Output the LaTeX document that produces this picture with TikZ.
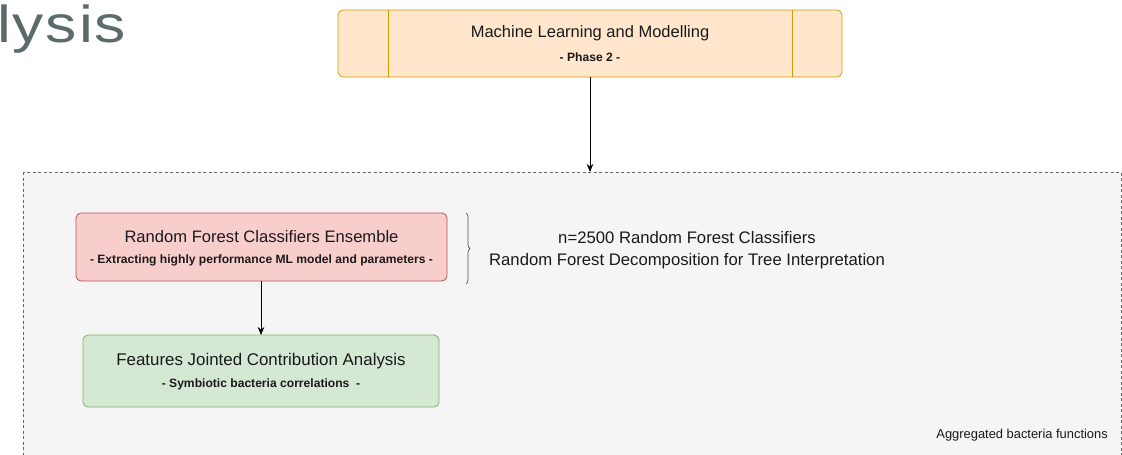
\documentclass[tikz,border=0pt]{standalone}
\usepackage{fontspec}
\setmainfont{Liberation Sans}
\usetikzlibrary{arrows.meta,decorations.pathreplacing}
\definecolor{boxtext}{HTML}{1A1A1A}
\definecolor{orfill}{HTML}{FFE6CC}
\definecolor{ordraw}{HTML}{D79B00}
\definecolor{rdfill}{HTML}{F8CECC}
\definecolor{rddraw}{HTML}{B85450}
\definecolor{gnfill}{HTML}{D5E8D4}
\definecolor{gndraw}{HTML}{82B366}
\definecolor{areafill}{HTML}{F5F5F5}
\definecolor{areadraw}{HTML}{666666}
\definecolor{titlegray}{HTML}{5B6B6B}
\tikzset{
  stagebox/.style={rounded corners=5pt, line width=0.8pt, inner sep=0pt},
  bigtxt/.style={font=\fontsize{16.6}{19}\selectfont, text=boxtext, inner sep=0pt},
  smalltxt/.style={font=\fontsize{12.1}{14}\selectfont\bfseries, text=boxtext, inner sep=0pt},
  link/.style={line width=0.8pt, -{Stealth[length=8pt,width=6.5pt]}},
}
\begin{document}
\begin{tikzpicture}[x=1pt,y=-1pt]
\useasboundingbox (0,0) rectangle (1122,455);
\fill[white] (0,0) rectangle (1122,455);

% cropped heading
\node[anchor=base west, inner sep=0pt, text=titlegray,
      font=\fontsize{52}{60}\selectfont\addfontfeatures{LetterSpace=3}] (head) at (-3,42)
  {\scalebox{1.2}[1]{lysis}};

% dashed working area
\draw[areadraw, fill=areafill, line width=0.8pt, dash pattern=on 3pt off 2.5pt]
  (23,172) rectangle (1121,480);
\coordinate (areatop) at (590,172);

% phase box
\draw[stagebox, draw=ordraw, fill=orfill] (338,10) rectangle (842,77);
\draw[ordraw, line width=0.8pt] (388,10) -- (388,77) (792,10) -- (792,77);
\node[bigtxt, font=\fontsize{16.5}{19}\selectfont] (mlt) at (590,33) {Machine Learning and Modelling};
\node[smalltxt] (mls) at (590,57) {- Phase 2 -};
\coordinate (mlbot) at (590,77);

% random forest box
\draw[stagebox, draw=rddraw, fill=rdfill] (76,213) rectangle (447,281);
\node[bigtxt] (rft) at (261.5,237) {Random Forest Classifiers Ensemble};
\node[smalltxt] (rfs) at (261.5,260) {- Extracting highly performance ML model and parameters -};
\coordinate (rfbot) at (261,281);

% contribution box
\draw[stagebox, draw=gndraw, fill=gnfill] (83,335) rectangle (439,407);
\node[bigtxt, font=\fontsize{16.9}{19}\selectfont] (fct) at (261,361) {Features Jointed Contribution Analysis};
\node[smalltxt] (fcs) at (261,384) {- Symbiotic bacteria correlations\ \ -};
\coordinate (fctop) at (261,335);

% connectors
\draw[link] (mlbot) -- (areatop);
\draw[link] (rfbot) -- (fctop);

% brace and notes
\draw[areadraw!80!black, line width=0.7pt, decorate, decoration={brace, amplitude=4pt}]
  (466,213) -- (466,284);
\node[bigtxt, align=center, font=\fontsize{16.7}{22}\selectfont] (notes) at (687,250)
  {n=2500 Random Forest Classifiers\\Random Forest Decomposition for Tree Interpretation};

\node[anchor=east, inner sep=0pt, text=boxtext, font=\fontsize{12.9}{15}\selectfont] (agg) at (1108,435)
  {Aggregated bacteria functions};
\end{tikzpicture}
\end{document}
